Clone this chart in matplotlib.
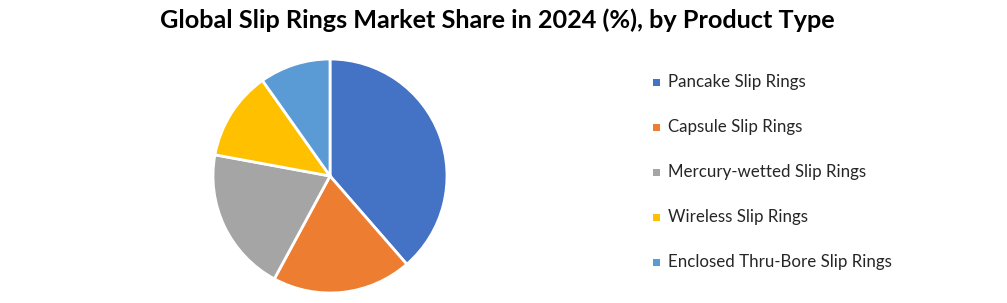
import matplotlib
matplotlib.use("Agg")
import matplotlib.pyplot as plt
from matplotlib.patches import Rectangle

categories = ["Pancake Slip Rings", "Capsule Slip Rings", "Mercury-wetted Slip Rings",
              "Wireless Slip Rings", "Enclosed Thru-Bore Slip Rings"]
shares = [38.6, 19.3, 20.0, 12.3, 9.8]
colors = ["#4472C4", "#ED7D31", "#A5A5A5", "#FFC000", "#5B9BD5"]
title = "Global Slip Rings Market Share in 2024 (%), by Product Type"

W, H = 1007, 303
fig = plt.figure(figsize=(W / 100, H / 100), dpi=100)
fig.patch.set_facecolor("white")

cx, cy, r = 330, 176, 117
ax = fig.add_axes([(cx - r) / W, (H - cy - r) / H, 2 * r / W, 2 * r / H])
ax.pie(shares, colors=colors, startangle=90, counterclock=False, radius=1,
       wedgeprops=dict(edgecolor="white", linewidth=2))
ax.set_xlim(-1.0, 1.0)
ax.set_ylim(-1.0, 1.0)
ax.set_aspect("equal")
ax.axis("off")

fig.text(497.5 / W, 1 - 20 / H, title, ha="center", va="center", fontsize=18.2,
         fontweight="bold", family=["Lato", "DejaVu Sans"])

ys = [82, 127, 172, 217, 262]
for name, col, y in zip(categories, colors, ys):
    fig.patches.append(Rectangle(((653) / W, (H - y - 3.5) / H), 7 / W, 7 / H,
                                 transform=fig.transFigure, facecolor=col, edgecolor="none"))
    fig.text(668 / W, 1 - y / H, name, ha="left", va="center", fontsize=12.2,
             color="#262626", family=["Lato", "DejaVu Sans"])

fig.savefig("out.png", dpi=100, facecolor="white")
